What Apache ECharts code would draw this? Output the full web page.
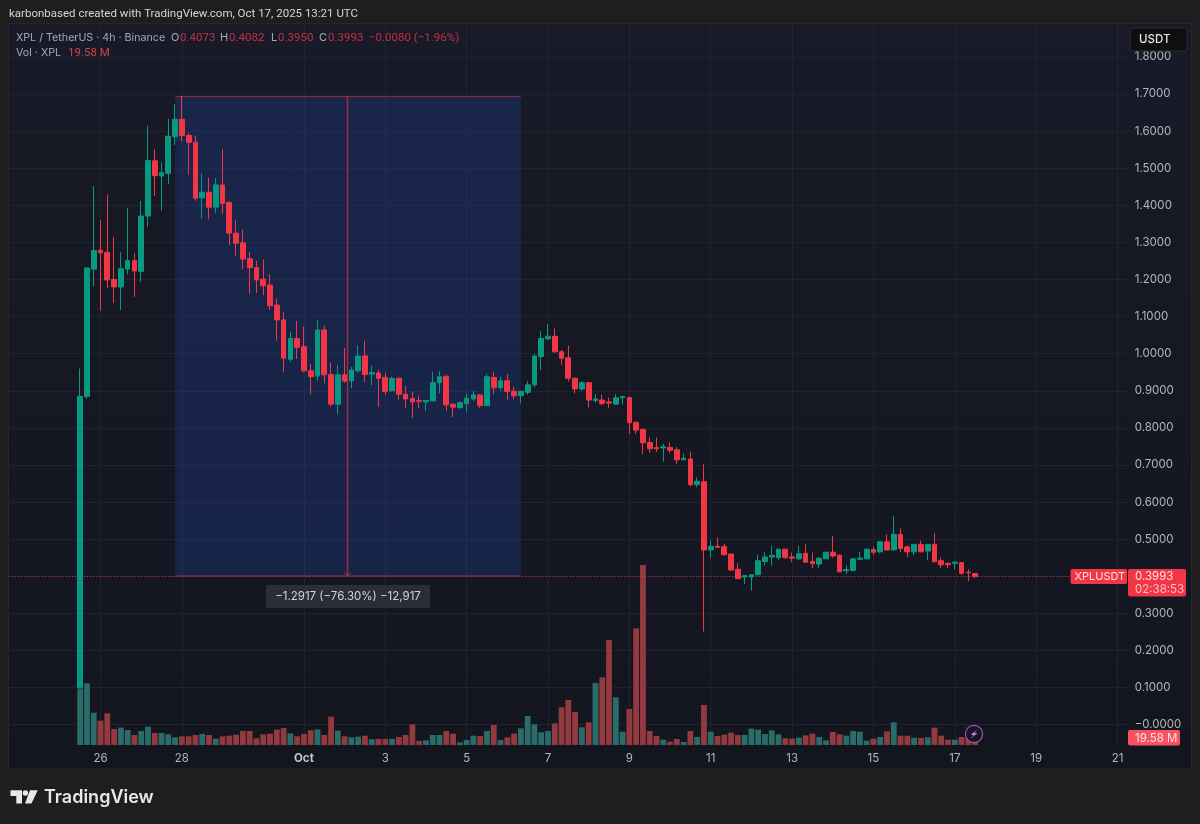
<!DOCTYPE html>
<html>
<head>
<meta charset="utf-8">
<title>XPL / TetherUS</title>
<style>
  html, body { margin: 0; padding: 0; background: #1e1e1e; }
  #chart { width: 1200px; height: 824px; }
</style>
<script src="https://cdn.jsdelivr.net/npm/echarts@6/dist/echarts.min.js"></script>
</head>
<body>
<div id="chart"></div>
<script>
const opens = [
  0.100, 0.885, 1.228, 1.279, 1.273, 1.200, 1.180, 1.228, 1.251, 1.222, 1.371, 1.520, 1.479, 1.486, 1.585, 1.632, 1.588, 1.570, 1.420, 1.435,
  1.395, 1.455, 1.408, 1.325, 1.299, 1.256, 1.232, 1.201, 1.185, 1.131, 1.091, 0.985, 1.041, 1.019, 0.954, 0.940, 1.064, 0.944, 0.864, 0.943,
  0.927, 0.954, 0.994, 0.945, 0.948, 0.936, 0.900, 0.934, 0.891, 0.879, 0.874, 0.870, 0.873, 0.922, 0.939, 0.864, 0.855, 0.866, 0.878, 0.889,
  0.860, 0.936, 0.908, 0.927, 0.899, 0.887, 0.896, 0.916, 0.992, 1.040, 1.047, 1.005, 0.989, 0.934, 0.905, 0.922, 0.874, 0.875, 0.870, 0.864,
  0.881, 0.882, 0.815, 0.796, 0.761, 0.747, 0.746, 0.747, 0.741, 0.714, 0.716, 0.647, 0.655, 0.471, 0.481, 0.480, 0.460, 0.419, 0.398, 0.398,
  0.404, 0.440, 0.452, 0.450, 0.473, 0.452, 0.447, 0.462, 0.440, 0.433, 0.447, 0.465, 0.457, 0.415, 0.416, 0.446, 0.447, 0.472, 0.466, 0.493,
  0.471, 0.513, 0.479, 0.466, 0.486, 0.468, 0.486, 0.442, 0.435, 0.435, 0.437, 0.411, 0.4073
];
const closes = [
  0.885, 1.231, 1.278, 1.272, 1.199, 1.180, 1.229, 1.251, 1.223, 1.371, 1.521, 1.480, 1.488, 1.586, 1.632, 1.588, 1.570, 1.419, 1.435, 1.395,
  1.455, 1.405, 1.325, 1.298, 1.255, 1.232, 1.199, 1.183, 1.129, 1.091, 0.988, 1.041, 1.017, 0.954, 0.938, 1.064, 0.943, 0.864, 0.943, 0.926,
  0.956, 0.994, 0.944, 0.949, 0.934, 0.898, 0.933, 0.891, 0.878, 0.870, 0.872, 0.874, 0.922, 0.938, 0.862, 0.856, 0.868, 0.880, 0.889, 0.860,
  0.938, 0.908, 0.927, 0.898, 0.887, 0.899, 0.916, 0.994, 1.041, 1.047, 1.005, 0.988, 0.934, 0.905, 0.922, 0.875, 0.878, 0.866, 0.867, 0.881,
  0.885, 0.814, 0.794, 0.760, 0.744, 0.744, 0.749, 0.740, 0.714, 0.718, 0.647, 0.656, 0.471, 0.481, 0.478, 0.458, 0.417, 0.394, 0.402, 0.404,
  0.442, 0.452, 0.456, 0.473, 0.451, 0.449, 0.461, 0.438, 0.434, 0.449, 0.465, 0.455, 0.412, 0.418, 0.447, 0.449, 0.473, 0.465, 0.493, 0.471,
  0.513, 0.475, 0.466, 0.486, 0.466, 0.486, 0.439, 0.431, 0.431, 0.438, 0.408, 0.4095, 0.3993
];
const highs = [
  0.960, 1.232, 1.452, 1.360, 1.430, 1.315, 1.273, 1.392, 1.271, 1.412, 1.614, 1.551, 1.516, 1.633, 1.673, 1.695, 1.595, 1.588, 1.486, 1.475,
  1.473, 1.552, 1.410, 1.360, 1.335, 1.275, 1.251, 1.254, 1.215, 1.149, 1.112, 1.059, 1.089, 1.073, 0.972, 1.091, 1.075, 0.976, 0.970, 1.015,
  0.965, 1.023, 1.035, 0.967, 0.956, 0.949, 0.938, 0.936, 0.913, 0.898, 0.887, 0.875, 0.951, 0.953, 0.944, 0.866, 0.871, 0.893, 0.900, 0.891,
  0.945, 0.951, 0.938, 0.945, 0.911, 0.900, 0.927, 0.999, 1.061, 1.080, 1.068, 1.010, 1.022, 0.936, 0.926, 0.924, 0.891, 0.890, 0.882, 0.891,
  0.886, 0.884, 0.817, 0.797, 0.775, 0.774, 0.757, 0.761, 0.748, 0.730, 0.736, 0.667, 0.702, 0.496, 0.505, 0.487, 0.462, 0.435, 0.403, 0.406,
  0.459, 0.465, 0.482, 0.474, 0.474, 0.464, 0.482, 0.486, 0.464, 0.451, 0.466, 0.509, 0.459, 0.428, 0.449, 0.466, 0.475, 0.480, 0.495, 0.513,
  0.563, 0.529, 0.484, 0.488, 0.496, 0.487, 0.516, 0.451, 0.437, 0.441, 0.438, 0.419, 0.4082
];
const lows = [
  0.100, 0.878, 1.182, 1.116, 1.177, 1.137, 1.118, 1.214, 1.153, 1.194, 1.342, 1.425, 1.385, 1.457, 1.563, 1.572, 1.482, 1.412, 1.365, 1.362,
  1.380, 1.377, 1.293, 1.264, 1.228, 1.161, 1.163, 1.158, 1.118, 1.035, 0.950, 0.978, 0.986, 0.950, 0.891, 0.927, 0.920, 0.857, 0.837, 0.922,
  0.907, 0.949, 0.923, 0.914, 0.857, 0.889, 0.898, 0.877, 0.853, 0.827, 0.853, 0.846, 0.871, 0.893, 0.846, 0.829, 0.850, 0.842, 0.873, 0.854,
  0.859, 0.891, 0.900, 0.875, 0.877, 0.866, 0.890, 0.909, 0.956, 1.037, 1.003, 0.970, 0.925, 0.893, 0.899, 0.855, 0.868, 0.861, 0.854, 0.863,
  0.863, 0.784, 0.784, 0.730, 0.733, 0.735, 0.709, 0.733, 0.703, 0.714, 0.642, 0.640, 0.251, 0.449, 0.476, 0.457, 0.415, 0.392, 0.379, 0.361,
  0.403, 0.429, 0.428, 0.444, 0.446, 0.438, 0.444, 0.437, 0.422, 0.422, 0.447, 0.450, 0.411, 0.406, 0.413, 0.444, 0.446, 0.457, 0.462, 0.469,
  0.470, 0.465, 0.451, 0.457, 0.465, 0.444, 0.439, 0.422, 0.422, 0.419, 0.404, 0.387, 0.3950
];
// volume in millions, the last value is the one printed in the legend
const volumes = [
  170, 185, 97, 73, 95, 48, 52, 45, 30, 42, 55, 36, 36, 32, 23, 26, 26, 30, 33, 30,
  19, 26, 28, 31, 42, 42, 20, 32, 34, 46, 51, 35, 26, 33, 44, 47, 30, 85, 43, 26,
  23, 25, 28, 17, 18, 18, 18, 24, 30, 62, 12, 14, 30, 30, 42, 34, 8, 15, 28, 27,
  42, 60, 15, 23, 34, 50, 87, 62, 38, 42, 65, 113, 135, 99, 53, 68, 186, 203, 315, 143,
  40, 108, 350, 540, 42, 27, 16, 10, 18, 9, 42, 24, 120, 40, 27, 31, 37, 30, 30, 49,
  46, 33, 44, 32, 20, 19, 22, 29, 34, 24, 14, 39, 32, 28, 42, 40, 13, 19, 24, 41,
  68, 28, 28, 22, 21, 23, 52, 28, 16, 16, 24, 22, 19.58
];
const priceTicks = [0, 0.1, 0.2, 0.3, 0.4, 0.5, 0.6, 0.7, 0.8, 0.9, 1.0, 1.1, 1.2, 1.3, 1.4, 1.5, 1.6, 1.7, 1.8];
const hiddenPriceLabels = [0.4];
// first bar is Sep 25 12:00, the axis keeps room on both sides of the bars
const leadingSlots = 10;
const totalSlots = 165;
const dayLabels = { 13: "26", 25: "28", 43: "Oct", 55: "3", 67: "5", 79: "7", 91: "9", 103: "11", 115: "13", 127: "15", 139: "17", 151: "19", 163: "21" };
const slots = Array.from({ length: totalSlots }, (_, i) => i);

const lastPrice = 0.3993;
const measureTop = 1.693;
const measureBottom = 0.401;
const measureStart = 24;
const measureEnd = 75;
const measureMid = 49.43;

const UP = "#089981";
const DOWN = "#f23645";
const UP_VOL = "#2a6c69";
const DOWN_VOL = "#923a3f";
const GRID_LINE = "#21242e";
const LABEL = "#b2b5be";
const FONT = "Inter, 'Noto Sans', sans-serif";
const DIGIT_FONT = "Roboto, Inter, sans-serif";
const MEASURE_LINE = "rgba(242,54,69,0.55)";

const pad = (arr) => Array(leadingSlots).fill("-").concat(arr);
const candles = pad(opens.map((open, i) => [open, closes[i], lows[i], highs[i]]));
const volumeBars = pad(volumes.map((value, i) => ({
  value,
  itemStyle: { color: closes[i] >= opens[i] ? UP_VOL : DOWN_VOL },
})));

function measureSeries(data, extra) {
  return Object.assign({
    type: "line",
    xAxisIndex: 1,
    yAxisIndex: 0,
    data,
    symbol: "none",
    silent: true,
    z: 3,
    lineStyle: { color: MEASURE_LINE, width: 1 },
  }, extra);
}

function text(x, y, str, color, font, extra) {
  return {
    type: "text",
    z: 100,
    x,
    y,
    style: Object.assign({
      text: str,
      fill: color,
      font: font || `11px ${FONT}`,
      verticalAlign: "middle",
    }, extra),
  };
}

function box(x, y, w, h, fill, extra) {
  return {
    type: "rect",
    z: 99,
    shape: { x, y, width: w, height: h, r: 2 },
    style: Object.assign({ fill }, extra),
  };
}

const legendRed = "#c23044";
const legendGrey = "#a6a9b3";
const legendDigits = `11.5px ${DIGIT_FONT}`;
const tagFont = `11.5px ${FONT}`;

const overlay = [
  {
    type: "rect",
    z: -10,
    shape: { x: 8.5, y: 23.5, width: 1183, height: 745.5 },
    style: {
      fill: new echarts.graphic.LinearGradient(0, 0, 0, 1, [
        { offset: 0, color: "#181b27" },
        { offset: 1, color: "#13161f" },
      ]),
      stroke: "#25272d",
      lineWidth: 1,
    },
  },
  text(9, 14, "karbonbased created with TradingView.com, Oct 17, 2025 13:21 UTC", "#d6d6d6", `11.5px ${DIGIT_FONT}`),
  text(16, 38, "XPL / TetherUS · 4h · Binance", legendGrey, `10.7px ${FONT}`),
  text(171, 38, "O", legendGrey),
  text(180, 38, "0.4073", legendRed, legendDigits),
  text(220, 38, "H", legendGrey),
  text(229, 38, "0.4082", legendRed, legendDigits),
  text(271, 38, "L", legendGrey),
  text(278, 38, "0.3950", legendRed, legendDigits),
  text(319, 38, "C", legendGrey),
  text(328, 38, "0.3993", legendRed, legendDigits),
  text(369, 38, "−0.0080 (−1.96%)", legendRed, legendDigits),
  text(16, 53, "Vol · XPL", legendGrey, `10.7px ${FONT}`),
  text(68, 53, "19.58 M", "#d2414f", legendDigits),
  // measure tool readout
  box(266, 585, 164, 23, "#2a2e39", { }),
  text(348, 597, "−1.2917 (−76.30%) −12,917", "#d1d4dc", `11.5px ${FONT}`, { align: "center" }),
  // price scale tags
  box(1130, 28, 57, 23, "#0f0f11", { stroke: "#2a2d35", lineWidth: 1 }),
  text(1139, 39.5, "USDT", "#e4e4e6", `500 11.5px ${FONT}`),
  box(1070.5, 569, 56.5, 15, DOWN),
  text(1074.5, 576.8, "XPLUSDT", "#fbe3e5", `11px ${FONT}`),
  box(1128, 569, 58, 27.5, DOWN),
  text(1135, 576.5, "0.3993", "#fbe3e5", tagFont),
  text(1135, 589.3, "02:38:53", "#f8c3c8", tagFont),
  box(1128, 730, 52, 15.5, "#f7525f"),
  text(1135, 738.2, "19.58 M", "#fbe3e5", tagFont),
  // lightning badge
  {
    type: "circle",
    z: 99,
    shape: { cx: 974, cy: 734, r: 8.6 },
    style: { fill: "#14171f", stroke: "#a24fc4", lineWidth: 1.2 },
  },
  {
    type: "polygon",
    z: 100,
    shape: { points: [[977.8, 729.3], [970.6, 734.8], [973.6, 735], [970.2, 738.7], [977.4, 733.2], [974.4, 733]] },
    style: { fill: "#c77ae0" },
  },
  // footer logo
  {
    type: "polygon",
    z: 100,
    shape: { points: [[10.5, 790.3], [22, 790.3], [22, 803.5], [16.3, 803.5], [16.3, 796], [10.5, 796]] },
    style: { fill: "#e8e8e8" },
  },
  {
    type: "circle",
    z: 100,
    shape: { cx: 25.4, cy: 793, r: 2.7 },
    style: { fill: "#e8e8e8" },
  },
  {
    type: "polygon",
    z: 100,
    shape: { points: [[30, 790.3], [37.7, 790.3], [31.5, 803.5], [25, 803.5]] },
    style: { fill: "#e8e8e8" },
  },
  text(44, 797.5, "TradingView", "#e8e8e8", `600 18px ${FONT}`),
];

const chart = echarts.init(document.getElementById("chart"), null, { renderer: "canvas" });
chart.setOption({
  animation: false,
  backgroundColor: "#1e1e1e",
  textStyle: { fontFamily: FONT },
  graphic: { elements: overlay },
  grid: { left: 9, top: 24, width: 1118.7, height: 721, containLabel: false },
  xAxis: [
    {
      type: "category",
      data: slots,
      boundaryGap: true,
      axisLine: { show: false },
      axisTick: { show: false },
      axisLabel: {
        color: LABEL,
        fontSize: 11.5,
        fontFamily: FONT,
        margin: 8,
        interval: (index) => index in dayLabels,
        formatter: (value) => {
          const label = dayLabels[value];
          return label === "Oct" ? "{b|Oct}" : label || "";
        },
        rich: { b: { color: "#c5c7ce", fontSize: 11.5, fontWeight: 700, fontFamily: FONT } },
      },
      splitLine: {
        show: true,
        alignWithLabel: true,
        interval: (index) => index in dayLabels,
        lineStyle: { color: GRID_LINE, width: 1 },
      },
    },
    { type: "value", show: false, min: -0.5, max: totalSlots - 0.5, splitLine: { show: false } },
  ],
  yAxis: [
    {
      type: "value",
      position: "right",
      min: -0.0547,
      max: 1.8887,
      axisLine: { show: false },
      axisTick: { show: false, customValues: priceTicks },
      axisLabel: {
        customValues: priceTicks.filter((tick) => !hiddenPriceLabels.includes(tick)),
        color: LABEL,
        fontSize: 11.5,
        fontFamily: FONT,
        margin: 7,
        formatter: (value) => (value === 0 ? "−0.0000" : value.toFixed(4)),
      },
      splitLine: { show: true, lineStyle: { color: GRID_LINE, width: 1 } },
    },
    { type: "value", show: false, min: 0, max: 2163, splitLine: { show: false } },
  ],
  series: [
    {
      name: "Vol",
      type: "bar",
      xAxisIndex: 0,
      yAxisIndex: 1,
      data: volumeBars,
      barWidth: 5.8,
      z: 1,
      silent: true,
    },
    measureSeries([[measureStart, measureTop], [measureEnd, measureTop]], {
      markArea: {
        silent: true,
        itemStyle: { color: "rgba(31,66,160,0.3)" },
        data: [[{ coord: [measureStart, measureTop] }, { coord: [measureEnd, measureBottom] }]],
      },
      z: 1,
    }),
    measureSeries([[measureStart, measureBottom], [measureEnd, measureBottom]]),
    measureSeries([[measureMid, measureTop], [measureMid, measureBottom]], {
      lineStyle: { color: "rgba(242,54,69,0.6)", width: 1.5 },
    }),
    measureSeries([[measureMid - 0.5, 0.41], [measureMid, measureBottom], [measureMid + 0.5, 0.41]]),
    {
      name: "XPLUSDT",
      type: "candlestick",
      xAxisIndex: 0,
      yAxisIndex: 0,
      data: candles,
      barWidth: 5.2,
      z: 5,
      silent: true,
      itemStyle: {
        color: UP,
        color0: DOWN,
        borderColor: UP,
        borderColor0: DOWN,
        borderWidth: 1,
      },
      markLine: {
        silent: true,
        symbol: "none",
        label: { show: false },
        lineStyle: { color: "rgba(242,54,69,0.75)", type: [1, 2], width: 1 },
        data: [{ yAxis: lastPrice }],
      },
    },
  ],
});
</script>
</body>
</html>
